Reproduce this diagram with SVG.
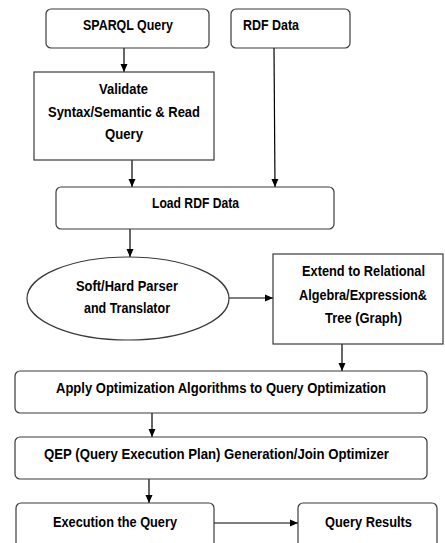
<svg xmlns="http://www.w3.org/2000/svg" width="445" height="543" viewBox="0 0 445 543">
<style>
.b{fill:#fff;stroke:#3a3a3a;stroke-width:1.2}
.t{font-family:"Liberation Sans",Arial,sans-serif;font-weight:bold;font-size:14px;fill:#000}
.c{stroke:#000;stroke-width:1.2;fill:none;marker-end:url(#ah)}
</style>
<defs>
<marker id="ah" markerWidth="8" markerHeight="8" viewBox="0 0 8 8" refX="8" refY="4" orient="auto" markerUnits="userSpaceOnUse">
<path d="M0,0.5 L8,4 L0,7.5 Z" fill="#000"/>
</marker>
</defs>
<rect width="445" height="543" fill="#fff"/>
<g id="connectors">
<line class="c" x1="124" y1="48" x2="124" y2="72"/>
<line class="c" x1="274" y1="48" x2="275" y2="187"/>
<line class="c" x1="132" y1="160" x2="132" y2="187"/>
<line class="c" x1="130" y1="229" x2="130" y2="257"/>
<line class="c" x1="229" y1="298" x2="273" y2="298"/>
<line class="c" x1="342" y1="344" x2="342" y2="371"/>
<line class="c" x1="152" y1="413" x2="152" y2="437"/>
<line class="c" x1="149" y1="479" x2="149" y2="503"/>
<line class="c" x1="214" y1="523" x2="298" y2="523"/>
</g>
<g id="sparql">
<rect class="b" x="46" y="9" width="163" height="39" rx="5"/>
<text class="t" x="83" y="30" textLength="90" lengthAdjust="spacingAndGlyphs">SPARQL Query</text>
</g>
<g id="rdf">
<rect class="b" x="231" y="9" width="119" height="39" rx="5"/>
<text class="t" x="243" y="30" textLength="56" lengthAdjust="spacingAndGlyphs">RDF Data</text>
</g>
<g id="validate">
<rect class="b" x="34" y="72" width="180" height="88"/>
<text class="t" x="99" y="94" textLength="49" lengthAdjust="spacingAndGlyphs">Validate</text>
<text class="t" x="48" y="117" textLength="152" lengthAdjust="spacingAndGlyphs">Syntax/Semantic &amp; Read</text>
<text class="t" x="105" y="139" textLength="38" lengthAdjust="spacingAndGlyphs">Query</text>
</g>
<g id="load">
<rect class="b" x="56" y="187" width="278" height="42" rx="5"/>
<text class="t" x="152" y="208" textLength="87" lengthAdjust="spacingAndGlyphs">Load RDF Data</text>
</g>
<g id="parser">
<ellipse class="b" cx="128" cy="298.5" rx="101" ry="41.5"/>
<text class="t" x="76" y="291" textLength="102" lengthAdjust="spacingAndGlyphs">Soft/Hard Parser</text>
<text class="t" x="84" y="313" textLength="86" lengthAdjust="spacingAndGlyphs">and Translator</text>
</g>
<g id="extend">
<rect class="b" x="273" y="254" width="170" height="90"/>
<text class="t" x="302" y="276" textLength="123" lengthAdjust="spacingAndGlyphs">Extend to Relational</text>
<text class="t" x="299" y="300" textLength="128" lengthAdjust="spacingAndGlyphs">Algebra/Expression&amp;</text>
<text class="t" x="325" y="323" textLength="77" lengthAdjust="spacingAndGlyphs">Tree (Graph)</text>
</g>
<g id="apply">
<rect class="b" x="15" y="371" width="412" height="42" rx="5"/>
<text class="t" x="56" y="393" textLength="330" lengthAdjust="spacingAndGlyphs">Apply Optimization Algorithms to Query Optimization</text>
</g>
<g id="qep">
<rect class="b" x="15" y="437" width="412" height="42" rx="5"/>
<text class="t" x="44" y="459" textLength="345" lengthAdjust="spacingAndGlyphs">QEP (Query Execution Plan) Generation/Join Optimizer</text>
</g>
<g id="execution">
<rect class="b" x="16" y="503" width="198" height="50" rx="5"/>
<text class="t" x="53" y="527" textLength="124" lengthAdjust="spacingAndGlyphs">Execution the Query</text>
</g>
<g id="results">
<rect class="b" x="298" y="503" width="139" height="50" rx="5"/>
<text class="t" x="325" y="527" textLength="87" lengthAdjust="spacingAndGlyphs">Query Results</text>
</g>
</svg>
